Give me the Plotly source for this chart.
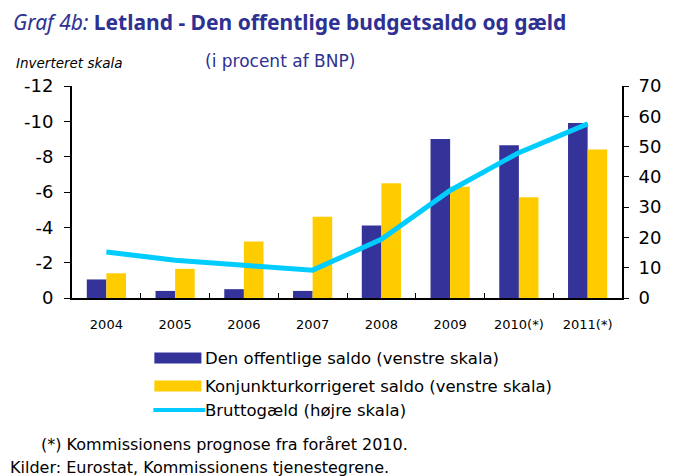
import plotly.graph_objects as go

years = ["2004", "2005", "2006", "2007", "2008", "2009", "2010(*)", "2011(*)"]
saldo = [-1.05, -0.4, -0.5, -0.4, -4.1, -9.0, -8.65, -9.9]
konj = [-1.4, -1.65, -3.2, -4.6, -6.5, -6.3, -5.7, -8.4]
gaeld = [15.2, 12.5, 10.8, 9.2, 19.4, 35.5, 48.0, 57.5]
left_ticks = [0, -2, -4, -6, -8, -10, -12]
right_ticks = [0, 10, 20, 30, 40, 50, 60, 70]

NAVY = "#333399"
YELLOW = "#FFCC00"
CYAN = "#00CCFF"
TITLE_C = "#2E3192"

# page body has an 8px margin; figure is drawn at (8, 8)
OFF = 8
W, H = 674 - OFF, 476 - OFF
L, R, T, B = 72, 633, 86, 298  # plot area in page pixels

def px(x):
    return (x - L) / (R - L)

def py(y):
    return (B - y) / (B - T)

DV = "DejaVu Sans, sans-serif"

fig = go.Figure()
fig.add_trace(go.Bar(x=years, y=saldo, marker=dict(color=NAVY, line=dict(width=0)),
                     name="Den offentlige saldo (venstre skala)"))
fig.add_trace(go.Bar(x=years, y=konj, marker=dict(color=YELLOW, line=dict(width=0)),
                     name="Konjunkturkorrigeret saldo (venstre skala)"))
fig.add_trace(go.Scatter(x=years, y=gaeld, yaxis="y2", mode="lines",
                         line=dict(color=CYAN, width=5),
                         name="Bruttogæld (højre skala)"))

fig.update_layout(
    width=W, height=H,
    margin=dict(l=L - OFF, r=W - (R - OFF), t=T - OFF, b=H - (B - OFF), pad=0),
    paper_bgcolor="white", plot_bgcolor="white",
    showlegend=False,
    barmode="group", bargap=0.43, bargroupgap=0,
    font=dict(family=DV, color="black"),
    xaxis=dict(showline=True, linecolor="black", linewidth=2, ticks="inside",
               tickson="boundaries", ticklen=5, tickcolor="black",
               tickfont=dict(size=13, family=DV), showgrid=False, zeroline=False,
               ticklabelstandoff=13),
    yaxis=dict(range=[0, -12], tickvals=left_ticks, ticktext=[str(v) for v in left_ticks],
               showline=True, linecolor="black", linewidth=2, ticks="outside",
               ticklen=6, tickcolor="black", tickfont=dict(size=18, family=DV),
               ticklabelstandoff=7, showgrid=False, zeroline=False),
    yaxis2=dict(range=[0, 70], tickvals=right_ticks, overlaying="y", side="right",
                showline=True, linecolor="black", linewidth=2, ticks="outside",
                ticklen=5, tickcolor="black", tickfont=dict(size=18, family=DV),
                ticklabelstandoff=6, showgrid=False, zeroline=False),
)

ann = []
ann.append(dict(text="<i>Graf 4b:</i> <b>Letland - Den offentlige budgetsaldo og gæld</b>",
                x=px(10), y=py(22), xref="paper", yref="paper", xanchor="left", yanchor="middle",
                showarrow=False, font=dict(size=21, color=TITLE_C, family="Noto Sans, sans-serif")))
ann.append(dict(text="<i>Inverteret skala</i>", x=px(13), y=py(63), xref="paper", yref="paper",
                xanchor="left", yanchor="middle", showarrow=False,
                font=dict(size=13.5, color="black", family=DV)))
ann.append(dict(text="(i procent af BNP)", x=px(206), y=py(61), xref="paper", yref="paper",
                xanchor="left", yanchor="middle", showarrow=False,
                font=dict(size=17, color=TITLE_C, family=DV)))

leg_rows = [(358, NAVY, "bar", "Den offentlige saldo (venstre skala)"),
            (386, YELLOW, "bar", "Konjunkturkorrigeret saldo (venstre skala)"),
            (410, CYAN, "line", "Bruttogæld (højre skala)")]
shapes = []
for yy, col, kind, label in leg_rows:
    if kind == "bar":
        shapes.append(dict(type="rect", xref="paper", yref="paper",
                           x0=px(156), x1=px(204), y0=py(yy - 5.5), y1=py(yy + 5.5),
                           fillcolor=col, line=dict(width=0)))
    else:
        shapes.append(dict(type="line", xref="paper", yref="paper",
                           x0=px(155), x1=px(208), y0=py(yy), y1=py(yy),
                           line=dict(color=col, width=4)))
    ann.append(dict(text=label, x=px(206), y=py(yy), xref="paper", yref="paper",
                    xanchor="left", yanchor="middle", showarrow=False,
                    font=dict(size=16.5, color="black", family=DV)))

ann.append(dict(text="(*) Kommissionens prognose fra foråret 2010.", x=px(38), y=py(444),
                xref="paper", yref="paper", xanchor="left", yanchor="middle",
                showarrow=False, font=dict(size=16, color="black", family=DV)))
ann.append(dict(text="Kilder: Eurostat, Kommissionens tjenestegrene.", x=px(7), y=py(467),
                xref="paper", yref="paper", xanchor="left", yanchor="middle",
                showarrow=False, font=dict(size=16, color="black", family=DV)))

fig.update_layout(annotations=ann, shapes=shapes)
fig.write_html("out.html")
